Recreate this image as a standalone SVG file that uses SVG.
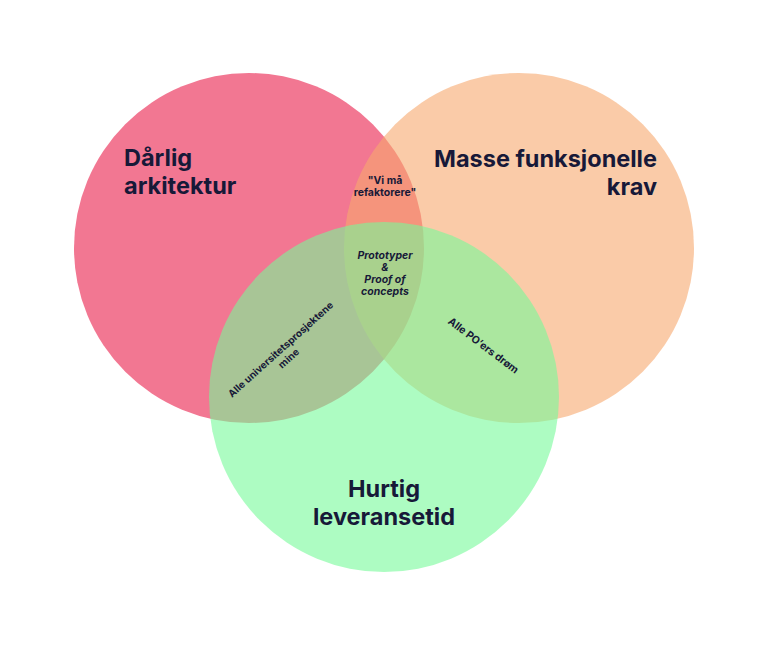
<svg xmlns="http://www.w3.org/2000/svg" width="768" height="645" viewBox="0 0 768 645">
<style>
.t{font-family:Inter,"Noto Sans","Liberation Sans",sans-serif;font-weight:700;fill:#171938}
.big{font-size:23.5px}
.sm{font-size:10.5px}
.xs{font-size:10px}
.it{font-style:italic}
</style>
<rect width="768" height="645" fill="#ffffff"/>
<g id="circle-red"><circle cx="249" cy="248" r="175" fill="#F27792"/></g>
<g id="circle-orange"><circle cx="519" cy="248" r="175" fill="#F7A86E" fill-opacity="0.6"/></g>
<g id="circle-green"><circle cx="384" cy="397" r="175" fill="#76FA99" fill-opacity="0.6"/></g>
<g id="connectors"></g>
<g id="label-red"><text class="t big" x="124" y="166">Dårlig</text><text class="t big" x="124" y="194">arkitektur</text></g>
<g id="label-orange"><text class="t big" x="657" y="167" text-anchor="end">Masse funksjonelle</text><text class="t big" x="657" y="195" text-anchor="end">krav</text></g>
<g id="label-green"><text class="t big" x="384" y="497" text-anchor="middle">Hurtig</text><text class="t big" x="384" y="525" text-anchor="middle">leveransetid</text></g>
<g id="label-red-orange"><text class="t sm" x="385" y="184" text-anchor="middle">"Vi må</text><text class="t sm" x="385" y="196" text-anchor="middle">refaktorere"</text></g>
<g id="label-center"><text class="t sm it" x="385" y="259" text-anchor="middle">Prototyper</text><text class="t sm it" x="385" y="271" text-anchor="middle">&amp;</text><text class="t sm it" x="385" y="283" text-anchor="middle">Proof of</text><text class="t sm it" x="385" y="295" text-anchor="middle">concepts</text></g>
<g id="label-red-green" transform="translate(283,352) rotate(-42)"><text class="t xs" x="0" y="0" text-anchor="middle">Alle universitetsprosjektene</text><text class="t xs" x="0" y="12" text-anchor="middle">mine</text></g>
<g id="label-orange-green" transform="translate(483,346) rotate(37)"><text class="t xs" x="0" y="3" text-anchor="middle" style="font-size:10.5px">Alle PO’ers drøm</text></g>
</svg>
